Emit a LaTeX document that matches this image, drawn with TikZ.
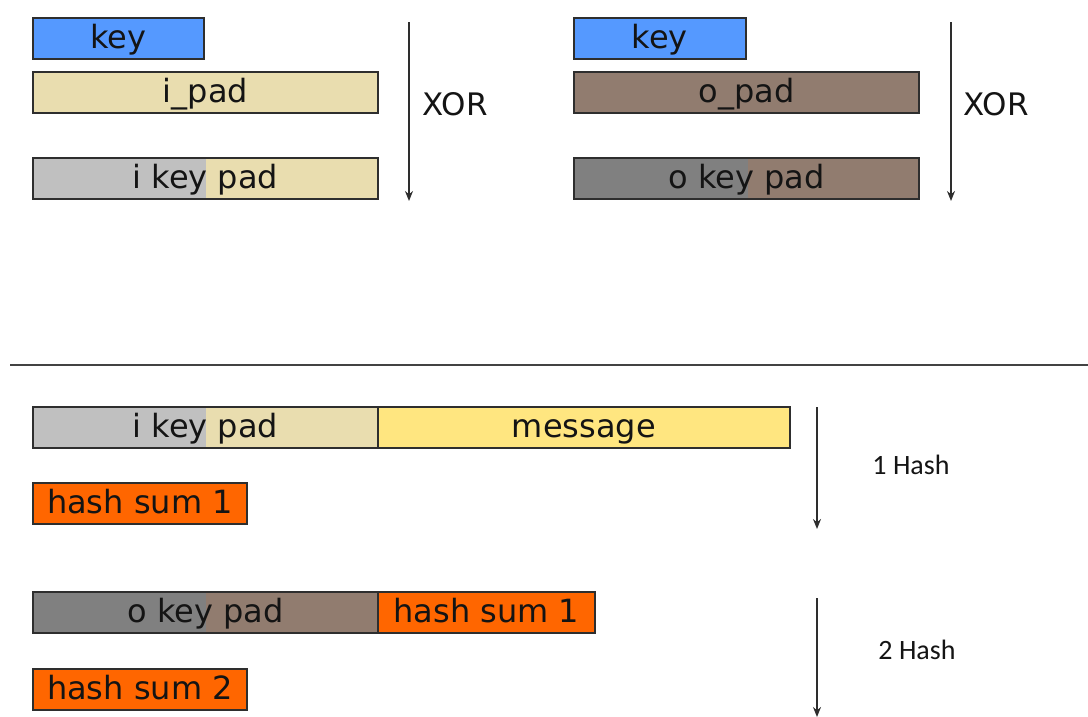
\documentclass[tikz,border=0pt]{standalone}
\usepackage{fontspec}
\usetikzlibrary{arrows.meta}
\newfontfamily\dvfont{DejaVu Sans}
\newfontfamily\carfont{Carlito}
\definecolor{keyblue}{HTML}{5599FF}
\definecolor{ibeige}{HTML}{E9DDAF}
\definecolor{igray}{HTML}{C0C0C0}
\definecolor{obrown}{HTML}{917C6F}
\definecolor{ogray}{HTML}{808080}
\definecolor{msgyellow}{HTML}{FFE680}
\definecolor{hashorange}{HTML}{FF6600}
\definecolor{edge}{HTML}{2E2E2E}
\definecolor{txt}{HTML}{141414}
\tikzset{
  blk/.style={draw=edge, line width=1.8pt, anchor=north west, inner sep=0pt,
    minimum height=41pt, text=txt, font=\dvfont\fontsize{32}{36}\selectfont,
    text height=25pt, text depth=5pt},
  split/.style 2 args={path picture={\fill[#1] (path picture bounding box.south west) rectangle ([xshift=#2]path picture bounding box.north west);}},
  flow/.style={draw=edge, line width=1.8pt, -{Stealth[length=10pt,width=8pt]}},
  xorlbl/.style={font=\dvfont\fontsize{31}{36}\selectfont, text=txt},
  hashlbl/.style={font=\carfont\fontsize{28}{32}\selectfont, text=txt},
}
\begin{document}
\begin{tikzpicture}[x=1pt,y=-1pt]
\useasboundingbox (0,0) rectangle (1088,716);
% top left
\node[blk, fill=keyblue, minimum width=171pt] (k1) at (32,17) {key};
\node[blk, fill=ibeige, minimum width=345pt] (ipad) at (32,71) {i\_pad};
\node[blk, fill=ibeige, split={igray}{173pt}, minimum width=345pt] (ikp) at (32,157) {i key pad};
\coordinate (a1s) at (409,22);
\coordinate (a1e) at (409,201);
\draw[flow] (a1s) -- (a1e);
\node[xorlbl] (x1) at (455,104) {XOR};
% top right
\node[blk, fill=keyblue, minimum width=172pt] (k2) at (573,17) {key};
\node[blk, fill=obrown, minimum width=345pt] (opad) at (573,71) {o\_pad};
\node[blk, fill=obrown, split={ogray}{174pt}, minimum width=345pt] (okp) at (573,157) {o key pad};
\coordinate (a2s) at (951,22);
\coordinate (a2e) at (951,201);
\draw[flow] (a2s) -- (a2e);
\node[xorlbl] (x2) at (996,104) {XOR};
% divider
\coordinate (d1) at (10,365);
\coordinate (d2) at (1088,365);
\draw[draw=edge!90, line width=1.5pt] (d1) -- (d2);
% bottom part 1
\node[blk, fill=ibeige, split={igray}{173pt}, minimum width=345pt] (ikp2) at (32,406) {i key pad};
\node[blk, fill=msgyellow, minimum width=412pt] (msg) at (377,406) {message};
\node[blk, fill=hashorange, minimum width=214pt] (hs1) at (32,482) {hash sum 1};
\coordinate (a3s) at (817,407);
\coordinate (a3e) at (817,529);
\draw[flow] (a3s) -- (a3e);
\node[hashlbl] (h1) at (911,465) {1 Hash};
% bottom part 2
\node[blk, fill=obrown, split={ogray}{173pt}, minimum width=345pt] (okp2) at (32,591) {o key pad};
\node[blk, fill=hashorange, minimum width=217pt] (hs1b) at (377,591) {hash sum 1};
\node[blk, fill=hashorange, minimum width=214pt] (hs2) at (32,668) {hash sum 2};
\coordinate (a4s) at (817,598);
\coordinate (a4e) at (817,717);
\draw[flow] (a4s) -- (a4e);
\node[hashlbl] (h2) at (917,650) {2 Hash};
\end{tikzpicture}
\end{document}
